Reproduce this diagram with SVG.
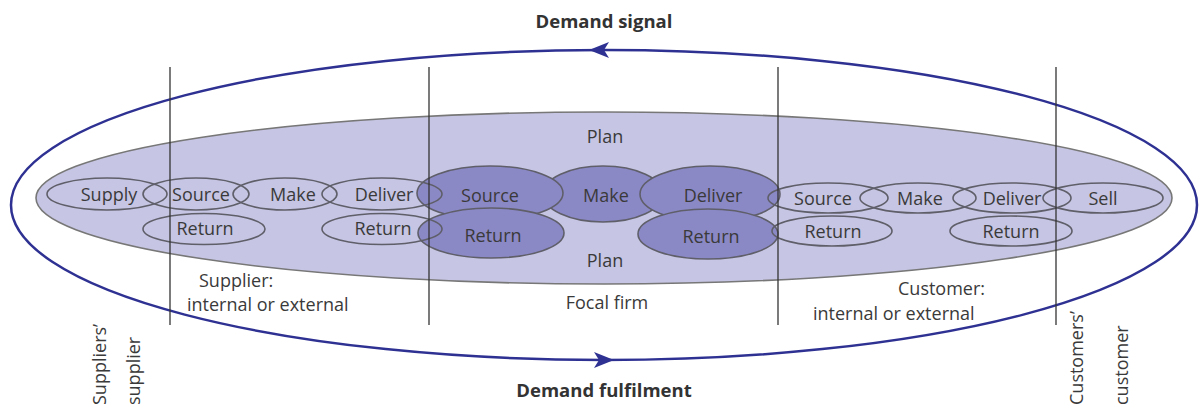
<svg xmlns="http://www.w3.org/2000/svg" width="1203" height="410" viewBox="0 0 1203 410">
  <style>
    text { font-family: "Open Sans", "Liberation Sans", sans-serif; fill: #3a3a3a; font-size: 18px; }
    .c { text-anchor: middle; }
    .title { font-weight: bold; font-size: 18.5px; fill: #333; }
    .loop { fill: none; stroke: #2e3192; stroke-width: 2.5; }
    .band { fill: #c6c5e3; stroke: #777; stroke-width: 1.6; }
    .step { fill: none; stroke: #5f5f6a; stroke-width: 1.6; }
    .core { fill: #8b88c6; stroke: #5f5f6a; stroke-width: 1.6; }
    .divider { stroke: #333; stroke-width: 1.3; }
  </style>
  <defs>
    <marker id="head" markerUnits="userSpaceOnUse" markerWidth="24" markerHeight="18" refX="20" refY="8" orient="auto">
      <path d="M20,8 L0,0 L5,8 L0,16 Z" fill="#2e3192"/>
    </marker>
  </defs>

  <rect width="1203" height="410" fill="#fff"/>

  <!-- demand loop -->
  <g id="connectors">
    <ellipse class="loop" cx="604" cy="205" rx="593" ry="155"/>
    <path d="M615,50 L589,50" fill="none" stroke="none" marker-end="url(#head)"/>
    <path d="M592,360 L614,360" fill="none" stroke="none" marker-end="url(#head)"/>
  </g>

  <!-- planning band -->
  <g id="plan-band">
    <ellipse class="band" cx="604" cy="198" rx="568" ry="86"/>
    <text class="c" x="605" y="143">Plan</text>
    <text class="c" x="605" y="267">Plan</text>
  </g>

  <!-- focal firm processes -->
  <g id="focal-make"><ellipse class="core" cx="603" cy="194" rx="60" ry="28"/><text class="c" x="606" y="202">Make</text></g>
  <g id="focal-source"><ellipse class="core" cx="490" cy="193" rx="73" ry="27"/><text class="c" x="490" y="202">Source</text></g>
  <g id="focal-deliver"><ellipse class="core" cx="710" cy="194" rx="70" ry="28"/><text class="c" x="713" y="202">Deliver</text></g>
  <g id="focal-return-in"><ellipse class="core" cx="491" cy="233" rx="73" ry="25"/><text class="c" x="493" y="242">Return</text></g>
  <g id="focal-return-out"><ellipse class="core" cx="708" cy="234" rx="70" ry="25"/><text class="c" x="711" y="243">Return</text></g>

  <!-- supplier side processes -->
  <g id="sup-supply"><ellipse class="step" cx="107" cy="194" rx="60" ry="16"/><text class="c" x="109" y="201">Supply</text></g>
  <g id="sup-source"><ellipse class="step" cx="196" cy="194" rx="53" ry="16"/><text class="c" x="201" y="201">Source</text></g>
  <g id="sup-make"><ellipse class="step" cx="285" cy="194" rx="52" ry="16"/><text class="c" x="293" y="201">Make</text></g>
  <g id="sup-deliver"><ellipse class="step" cx="382" cy="194" rx="60" ry="16"/><text class="c" x="384" y="201">Deliver</text></g>
  <g id="sup-return-in"><ellipse class="step" cx="204" cy="229" rx="61" ry="15.5"/><text class="c" x="205" y="235">Return</text></g>
  <g id="sup-return-out"><ellipse class="step" cx="382" cy="229" rx="60" ry="15.5"/><text class="c" x="383" y="235">Return</text></g>

  <!-- customer side processes -->
  <g id="cus-source"><ellipse class="step" cx="828" cy="198" rx="60" ry="15"/><text class="c" x="823" y="205">Source</text></g>
  <g id="cus-make"><ellipse class="step" cx="918" cy="198" rx="58" ry="15"/><text class="c" x="920" y="205">Make</text></g>
  <g id="cus-deliver"><ellipse class="step" cx="1012" cy="198" rx="59" ry="15"/><text class="c" x="1012" y="205">Deliver</text></g>
  <g id="cus-sell"><ellipse class="step" cx="1103" cy="198" rx="60" ry="15"/><text class="c" x="1103" y="205">Sell</text></g>
  <g id="cus-return-in"><ellipse class="step" cx="832" cy="231" rx="60" ry="15"/><text class="c" x="833" y="238">Return</text></g>
  <g id="cus-return-out"><ellipse class="step" cx="1011" cy="231" rx="61" ry="15"/><text class="c" x="1011" y="238">Return</text></g>

  <!-- tier boundaries -->
  <g id="dividers">
    <line class="divider" x1="170" y1="67" x2="170" y2="325"/>
    <line class="divider" x1="429" y1="67" x2="429" y2="325"/>
    <line class="divider" x1="778" y1="67" x2="778" y2="325"/>
    <line class="divider" x1="1056" y1="67" x2="1056" y2="325"/>
  </g>

  <!-- tier labels -->
  <g id="labels">
    <text class="title c" x="604" y="28">Demand signal</text>
    <text class="title c" x="604" y="397">Demand fulfilment</text>
    <text x="199" y="287">Supplier:</text>
    <text x="187" y="311">internal or external</text>
    <text class="c" x="607" y="309">Focal firm</text>
    <text x="898" y="295">Customer:</text>
    <text x="813" y="320">internal or external</text>
    <text transform="translate(106,405) rotate(-90)">Suppliers’</text>
    <text transform="translate(140,405) rotate(-90)">supplier</text>
    <text transform="translate(1083,405) rotate(-90)">Customers’</text>
    <text transform="translate(1128,405) rotate(-90)">customer</text>
  </g>
</svg>
